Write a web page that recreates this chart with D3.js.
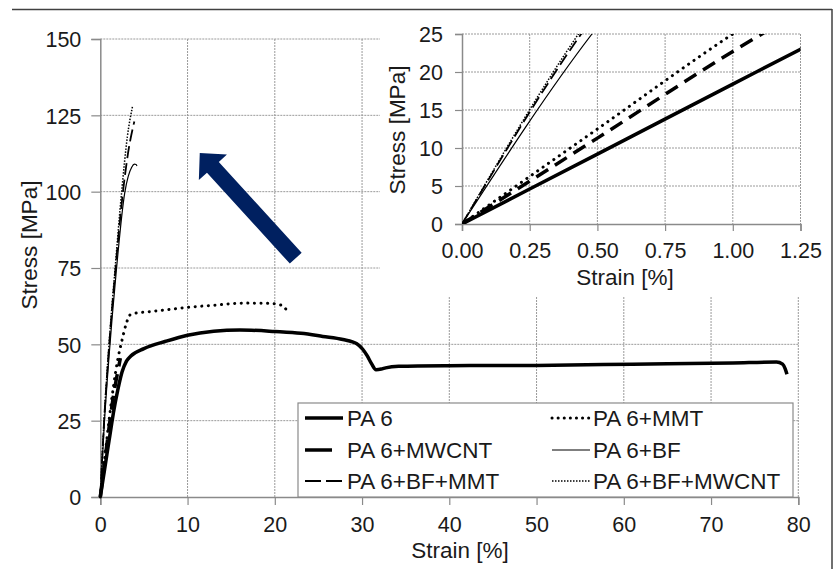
<!DOCTYPE html>
<html><head><meta charset="utf-8">
<script src="https://cdn.jsdelivr.net/npm/d3@7"></script>
<style>
html,body{margin:0;padding:0;background:#fff;}
svg{display:block;font-family:"Liberation Sans",Arial,sans-serif;}
</style></head>
<body><svg id="c" width="836" height="569"></svg>
<script>
// ---- data ----
const seriesNames = ["PA 6","PA 6+MWCNT","PA 6+BF+MMT","PA 6+MMT","PA 6+BF","PA 6+BF+MWCNT"];
const pa6Strain   = [0,0.5,1,1.25,1.5,2,2.5,3,3.5,5,7.5,10,13,16,20,23,25.5,27.8,29.4,30.1,30.6,31.1,31.6,32.2,32.7,34.2,40,50,61,72.5,77.5,78.2,78.5,78.7];
const pa6Stress   = [0,9.2,18.4,23,27.5,35,41,44.5,46.2,48.6,51,53,54.3,54.7,54.2,53.6,52.6,51.6,50.2,48.3,46.2,43.6,41.7,41.9,42.3,42.8,43,43.1,43.5,43.9,44.2,43.5,42,40.2];
const mwcntStrain = [0,0.5,1,1.25,1.5,1.8,2.1,2.3];
const mwcntStress = [0,11.3,22.7,28,33,38,42.5,45.5];
const bfmmtStrain = [0,0.44,1,1.75,2.6,3.2,3.9];
const bfmmtStress = [0,25,49,75,100,113,123];
const mmtStrain   = [0,0.5,1,1.5,2,2.5,3,3.4,4,5.3,7.5,10.3,13,16.4,19.5,20.5,21,21.4];
const mmtStress   = [0,12.5,25,36,45,51.5,57,59.6,60.2,60.6,61.3,62.2,62.8,63.5,63.4,63,62.4,61];
const bfStrain    = [0,0.48,1,1.8,2.8,3.2,3.6,3.9,4.1,4.2];
const bfStress    = [0,25,46,73,99.6,105,108,109,108.9,108.4];
const bfcntStrain = [0,0.43,1,1.7,2.45,3.1,3.7];
const bfcntStress = [0,25,50,75,100,118,128];
const mainXTicks  = [0,10,20,30,40,50,60,70,80];
const mainYTicks  = [0,25,50,75,100,125,150];
const insetXTicks = [0,0.25,0.5,0.75,1.0,1.25];
const insetYTicks = [0,5,10,15,20,25];
const arrowTip = [11.4,112.7], arrowTail = [22.4,78.2]; // strain, stress

const seriesX = [pa6Strain,mwcntStrain,bfmmtStrain,mmtStrain,bfStrain,bfcntStrain];
const seriesY = [pa6Stress,mwcntStress,bfmmtStress,mmtStress,bfStress,bfcntStress];

// ---- styles ----
const styles = [
  {w:3.5, dash:null, cap:"butt", legDash:null},
  {w:3.5, dash:"14 8", cap:"butt", legDash:"27 20"},
  {w:1.8, dash:"12 5", cap:"butt", legDash:"16 5"},
  {w:3, dash:"0.1 6.5", cap:"round", legDash:"0.1 6"},
  {w:1.2, dash:null, cap:"butt", legDash:null},
  {w:1.5, dash:"1.5 1.5", cap:"butt", legDash:"1.5 1.5"}
];

const svg = d3.select("#c");
const FONT = 21.5, TFONT = 22.5, LFONT = 22.5;
const gridCol = "#9a9a9a", axisCol = "#8a8a8a", txt = "#1a1a1a";

// ---- main chart ----
const x = d3.scaleLinear().domain([0,80]).range([100.3,798.3]);
const y = d3.scaleLinear().domain([0,150]).range([497,39]);

const g = svg.append("g");
g.selectAll(".gx").data(mainXTicks.slice(1)).join("line")
  .attr("x1",d=>x(d)).attr("x2",d=>x(d)).attr("y1",y(150)).attr("y2",y(0))
  .attr("stroke",gridCol).attr("stroke-width",1).attr("stroke-dasharray","2 1");
g.selectAll(".gy").data(mainYTicks.slice(1)).join("line")
  .attr("x1",x(0)).attr("x2",x(80)).attr("y1",d=>y(d)).attr("y2",d=>y(d))
  .attr("stroke",gridCol).attr("stroke-width",1).attr("stroke-dasharray","2 1");

const xAxis = d3.axisBottom(x).tickValues(mainXTicks).tickSize(8).tickPadding(8).tickFormat(d3.format("d"));
const yAxis = d3.axisLeft(y).tickValues(mainYTicks).tickSize(9).tickPadding(10).tickFormat(d3.format("d"));
const gx = g.append("g").attr("transform",`translate(0,${y(0)})`).call(xAxis);
const gy = g.append("g").attr("transform",`translate(${x(0)},0)`).call(yAxis);
[gx,gy].forEach(a=>{
  a.select(".domain").attr("stroke",axisCol).attr("stroke-width",1.5);
  a.selectAll(".tick line").attr("stroke",axisCol).attr("stroke-width",1.2);
  a.selectAll(".tick text").attr("fill",txt).style("font-size",FONT+"px").style("font-family","Liberation Sans, Arial, sans-serif");
});
gy.selectAll(".tick text").attr("dy","0.36em");
gx.selectAll(".tick text").attr("dy","0.88em");

g.append("text").attr("x",460).attr("y",558).attr("text-anchor","middle")
  .attr("fill",txt).style("font-size",TFONT+"px").text("Strain [%]");
g.append("text").attr("transform","translate(37,245) rotate(-90)").attr("text-anchor","middle")
  .attr("fill",txt).style("font-size",TFONT+"px").text("Stress [MPa]");

// arrow (annotation)
(function(){
  const tx=x(arrowTip[0]), ty=y(arrowTip[1]), ex=x(arrowTail[0]), ey=y(arrowTail[1]);
  const L=Math.hypot(ex-tx,ey-ty), ux=(ex-tx)/L, uy=(ey-ty)/L, px=uy, py=-ux;
  const headLen=19.5, headHalf=19, shaftHalf=8;
  const bx=tx+ux*headLen, by=ty+uy*headLen;
  const pts=[[tx,ty],[bx+px*headHalf,by+py*headHalf],[bx+px*shaftHalf,by+py*shaftHalf],
    [ex+px*shaftHalf,ey+py*shaftHalf],[ex-px*shaftHalf,ey-py*shaftHalf],
    [bx-px*shaftHalf,by-py*shaftHalf],[bx-px*headHalf,by-py*headHalf]];
  g.append("polygon").attr("points",pts.map(p=>p.join(",")).join(" ")).attr("fill","#002060");
})();

const line = (sx,sy)=>d3.line().x(d=>sx(d[0])).y(d=>sy(d[1])).curve(d3.curveMonotoneX);
function drawSeries(parent, sx, sy, clip){
  seriesNames.forEach((n,i)=>{
    const pts = seriesX[i].map((v,j)=>[v,seriesY[i][j]]);
    const p = parent.append("path").datum(pts)
      .attr("d",line(sx,sy)).attr("fill","none").attr("stroke","#000")
      .attr("stroke-width",styles[i].w).attr("stroke-linecap",styles[i].cap)
      .attr("stroke-linejoin","round");
    if(styles[i].dash) p.attr("stroke-dasharray",styles[i].dash);
    if(clip) p.attr("clip-path",clip);
  });
}
drawSeries(g, x, y, null);

// legend
const lg = svg.append("g");
lg.append("rect").attr("x",298).attr("y",403).attr("width",495).attr("height",94)
  .attr("fill","#fff").attr("stroke","#8a8a8a").attr("stroke-width",1.2);
const legendPos = [[305,343,347,418],[305,343,347,450],[305,343,347,481],[552,590,593,418],[552,590,593,450],[552,590,593,481]];
seriesNames.forEach((n,i)=>{
  const [x1,x2,tx,cy]=legendPos[i];
  const l=lg.append("line").attr("x1",x1).attr("x2",x2).attr("y1",cy).attr("y2",cy)
    .attr("stroke","#000").attr("stroke-width",styles[i].w).attr("stroke-linecap",styles[i].cap);
  if(styles[i].legDash) l.attr("stroke-dasharray",styles[i].legDash);
  lg.append("text").attr("x",tx).attr("y",cy).attr("dy","0.36em").attr("fill",txt)
    .style("font-size",LFONT+"px").text(n);
});

// ---- inset ----
const ig = svg.append("g");
ig.append("rect").attr("x",380).attr("y",10).attr("width",452).attr("height",287).attr("fill","#fff");
const ix = d3.scaleLinear().domain([0,1.25]).range([462,800.5]);
const iy = d3.scaleLinear().domain([0,25]).range([224,34]);
ig.selectAll(".igx").data(insetXTicks.slice(1)).join("line")
  .attr("x1",d=>ix(d)).attr("x2",d=>ix(d)).attr("y1",iy(25)).attr("y2",iy(0))
  .attr("stroke",gridCol).attr("stroke-width",1).attr("stroke-dasharray","2 1");
ig.selectAll(".igy").data(insetYTicks.slice(1)).join("line")
  .attr("x1",ix(0)).attr("x2",ix(1.25)).attr("y1",d=>iy(d)).attr("y2",d=>iy(d))
  .attr("stroke",gridCol).attr("stroke-width",1).attr("stroke-dasharray","2 1");
const ixA = d3.axisBottom(ix).tickValues(insetXTicks).tickSize(7).tickPadding(8).tickFormat(d3.format(".2f"));
const iyA = d3.axisLeft(iy).tickValues(insetYTicks).tickSize(7).tickPadding(12).tickFormat(d3.format("d"));
const igx = ig.append("g").attr("transform",`translate(0,${iy(0)})`).call(ixA);
const igy = ig.append("g").attr("transform",`translate(${ix(0)},0)`).call(iyA);
[igx,igy].forEach(a=>{
  a.select(".domain").attr("stroke",axisCol).attr("stroke-width",1.5);
  a.selectAll(".tick line").attr("stroke",axisCol).attr("stroke-width",1.2);
  a.selectAll(".tick text").attr("fill",txt).style("font-size",FONT+"px").style("font-family","Liberation Sans, Arial, sans-serif");
});
igy.selectAll(".tick text").attr("dy","0.36em");
igx.selectAll(".tick text").attr("dy","0.88em");
ig.append("text").attr("x",625).attr("y",285).attr("text-anchor","middle")
  .attr("fill",txt).style("font-size",TFONT+"px").text("Strain [%]");
ig.append("text").attr("transform","translate(405,130) rotate(-90)").attr("text-anchor","middle")
  .attr("fill",txt).style("font-size",TFONT+"px").text("Stress [MPa]");
svg.append("defs").append("clipPath").attr("id","insetClip").append("rect")
  .attr("x",ix(0)).attr("y",iy(25)).attr("width",ix(1.25)-ix(0)).attr("height",iy(0)-iy(25));
drawSeries(ig, ix, iy, "url(#insetClip)");

// frame lines
svg.append("line").attr("x1",12).attr("x2",832).attr("y1",9.5).attr("y2",9.5).attr("stroke","#404040").attr("stroke-width",1.5);
svg.append("line").attr("x1",832).attr("x2",832).attr("y1",9).attr("y2",569).attr("stroke","#404040").attr("stroke-width",1.5);
</script></body></html>
